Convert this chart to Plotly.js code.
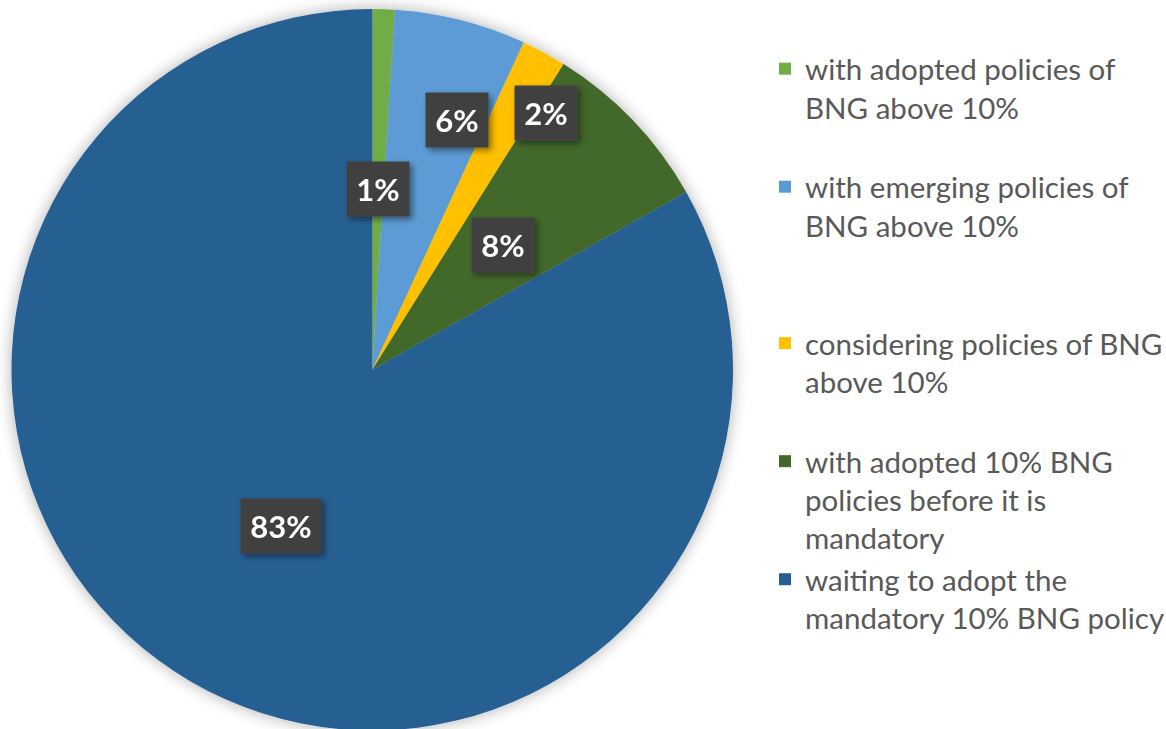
<!DOCTYPE html>
<html>
<head>
<meta charset="utf-8">
<script src="https://cdn.plot.ly/plotly-3.0.1.min.js"></script>
<style>
html,body{margin:0;padding:0;background:#fff;overflow:hidden;}
#wrap{width:1166px;height:729px;overflow:hidden;position:relative;}
#chart{width:1166px;height:742px;}
.pielayer{filter:url(#pieShadow);}
g.annotation{filter:url(#boxShadow);}
</style>
</head>
<body>
<svg width="0" height="0" style="position:absolute">
  <defs>
    <filter id="pieShadow" x="-10%" y="-10%" width="120%" height="120%">
      <feGaussianBlur in="SourceAlpha" stdDeviation="8"/>
      <feComponentTransfer><feFuncA type="linear" slope="0.32"/></feComponentTransfer>
      <feMerge><feMergeNode/><feMergeNode in="SourceGraphic"/></feMerge>
    </filter>
    <filter id="boxShadow" x="-30%" y="-30%" width="160%" height="160%">
      <feGaussianBlur in="SourceAlpha" stdDeviation="3"/>
      <feOffset dx="3" dy="3"/>
      <feComponentTransfer><feFuncA type="linear" slope="0.45"/></feComponentTransfer>
      <feMerge><feMergeNode/><feMergeNode in="SourceGraphic"/></feMerge>
    </filter>
  </defs>
</svg>
<div id="wrap"><div id="chart"></div></div>
<script>
// ---- data ----
const categories = [
  "with adopted policies of<br>BNG above 10%",
  "with emerging policies of<br>BNG above 10%",
  "considering policies of BNG<br>above 10%",
  "with adopted 10% BNG<br>policies before it is<br>mandatory",
  "waiting to adopt the<br>mandatory 10% BNG policy"
];
const values = [1.0, 5.9, 2.0, 7.9, 83.2];
const colors = ["#70AD47", "#5B9BD5", "#FFC000", "#43682B", "#255E91"];

// ---- layout constants (not data) ----
const W = 1166, H = 742;
const pieLeft = 11.5, pieRight = 733, pieTop = 9;
const R = (pieRight - pieLeft) / 2;
const cx = pieLeft + R, cy = pieTop + R;
// label radial factor and angular nudge (deg) per slice
const labelRadius = [0.50, 0.73, 0.86, 0.50, 0.50];
const labelNudge = [0, 4.5, 5.7, 0, 0];
// total lines per legend slot (blank lines pad the spacing)
const legendSlotLines = [3, 4, 3, 3, 2];

const legendNames = categories.map((c, i) => {
  let n = c.split("<br>").length;
  let s = c;
  while (n < legendSlotLines[i]) { s += "<br>\u00a0"; n++; }
  return s;
});

const total = values.reduce((a, b) => a + b, 0);
const annotations = [];
let cum = 0;
values.forEach((v, i) => {
  const mid = (cum + v / 2) / total * 360 + labelNudge[i];
  cum += v;
  const th = mid * Math.PI / 180;
  const px = cx + labelRadius[i] * R * Math.sin(th);
  const py = cy - labelRadius[i] * R * Math.cos(th);
  const pct = Math.round(v / total * 100);
  annotations.push({
    x: px / W, y: 1 - py / H, xref: "paper", yref: "paper",
    text: "<b>" + pct + "%</b>",
    showarrow: false,
    font: {family: "Lato, 'Open Sans', sans-serif", size: 31, color: "#FFFFFF"},
    bgcolor: "#404040",
    width: (pct >= 10 ? 78 : 60),
    height: 52,
    xanchor: "center", yanchor: "middle"
  });
});

const trace = {
  type: "pie",
  labels: legendNames,
  values: values,
  sort: false,
  direction: "clockwise",
  rotation: 0,
  marker: {colors: colors, line: {width: 0}},
  textinfo: "none",
  hoverinfo: "label+percent",
  domain: {x: [pieLeft / W, pieRight / W], y: [1 - (pieTop + 2 * R) / H, 1 - pieTop / H]}
};

const layout = {
  width: W, height: H,
  margin: {l: 0, r: 0, t: 0, b: 0, pad: 0, autoexpand: false},
  paper_bgcolor: "#FFFFFF",
  showlegend: true,
  legend: {
    x: 765 / W, y: 1 - 43 / H, xanchor: "left", yanchor: "top",
    font: {family: "Lato, 'Open Sans', sans-serif", size: 29.5, color: "#595959"},
    valign: "top",
    bgcolor: "rgba(0,0,0,0)",
    traceorder: "normal"
  },
  annotations: annotations
};

Plotly.newPlot("chart", [trace], layout, {displayModeBar: false, staticPlot: true});
</script>
</body>
</html>
